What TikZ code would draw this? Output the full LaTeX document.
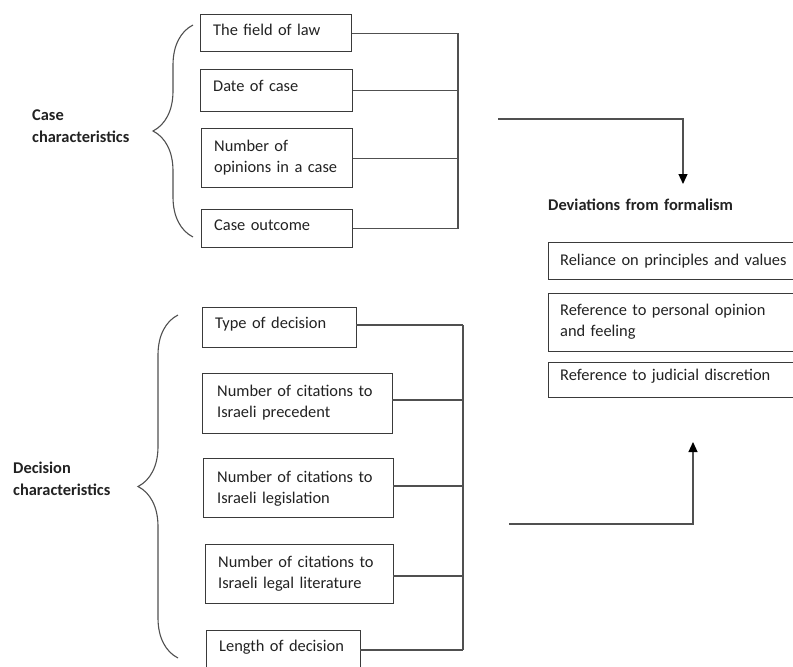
\documentclass[tikz,border=0pt]{standalone}
\usepackage{fontspec}
\setmainfont{Carlito}
\usetikzlibrary{arrows.meta,decorations.pathreplacing}
\definecolor{txtc}{HTML}{222222}
\definecolor{linec}{HTML}{505050}
\definecolor{boxc}{HTML}{3A3A3A}
\begin{document}
\begin{tikzpicture}[x=1pt,y=-1pt,
  box/.style={draw=boxc,line width=1.2pt,inner sep=0,anchor=north west},
  txt/.style={anchor=base west,inner sep=0,text width=300pt,align=left,text=txtc,
    font=\fontsize{16.4}{21}\selectfont},
  head/.style={txt,font=\fontsize{16.4}{22}\selectfont\bfseries},
  conn/.style={draw=linec,line width=1.2pt},
  bracestyle/.style={draw=linec,line width=1.1pt,decorate,decoration={brace,amplitude=40pt}},
  arr/.style={conn,-{Triangle[width=9pt,length=10pt,color=black]}}]
\useasboundingbox (0,0) rectangle (793,667);
\clip (0,0) rectangle (793,667);
\fill[white] (0,0) rectangle (793,667);

% ---------- case characteristics ----------
\node[box,minimum width=151pt,minimum height=37pt] (b1) at (200,14) {};
\node[box,minimum width=152pt,minimum height=42pt] (b2) at (200,69) {};
\node[box,minimum width=151pt,minimum height=59pt] (b3) at (201,128) {};
\node[box,minimum width=151pt,minimum height=38pt] (b4) at (201,209) {};
\node[txt] (t1) at (213,35) {The field of law};
\node[txt] (t2) at (213,91) {Date of case};
\node[txt] (t3) at (214,151) {Number of\\opinions in a case};
\node[txt] (t4) at (214,230) {Case outcome};

\coordinate (busA) at (458,32);
\draw[conn] (b1.east) -- (b1.east -| busA);
\draw[conn] (b2.east) -- (b2.east -| busA);
\draw[conn] (b3.east) -- (b3.east -| busA);
\draw[conn] (b4.east) -- (b4.east -| busA);
\draw[conn] (b1.east -| busA) -- (b4.east -| busA);

\draw[bracestyle] (193,237) -- (193,25);
\node[head] (caseh) at (32,120) {Case\\characteristics};

% ---------- right side ----------
\coordinate (a1s) at (498,119);
\coordinate (a1c) at (683,119);
\coordinate (a1e) at (683,184);
\draw[arr] (a1s) -- (a1c) -- (a1e);

\node[head] (devh) at (548,210) {Deviations from formalism};
\node[box,minimum width=260pt,minimum height=37pt] (r1) at (548,242) {};
\node[box,minimum width=260pt,minimum height=58pt] (r2) at (548,293) {};
\node[box,minimum width=260pt,minimum height=35pt] (r3) at (548,362) {};
\node[txt] (rt1) at (560,265) {Reliance on principles and values};
\node[txt] (rt2) at (560,315) {Reference to personal opinion\\and feeling};
\node[txt] (rt3) at (560,380) {Reference to judicial discretion};

\coordinate (a2s) at (509,524);
\coordinate (a2c) at (693,524);
\coordinate (a2e) at (693,442);
\draw[arr] (a2s) -- (a2c) -- (a2e);

% ---------- decision characteristics ----------
\node[box,minimum width=154pt,minimum height=40pt] (d1) at (202,307) {};
\node[box,minimum width=190pt,minimum height=60pt] (d2) at (202,373) {};
\node[box,minimum width=190pt,minimum height=59pt] (d3) at (203,458) {};
\node[box,minimum width=188pt,minimum height=59pt] (d4) at (205,544) {};
\node[box,minimum width=154pt,minimum height=60pt] (d5) at (206,630) {};
\node[txt] (dt1) at (215,328) {Type of decision};
\node[txt] (dt2) at (217,396) {Number of citations to\\Israeli precedent};
\node[txt] (dt3) at (217,482) {Number of citations to\\Israeli legislation};
\node[txt] (dt4) at (218,567) {Number of citations to\\Israeli legal literature};
\node[txt] (dt5) at (219,651) {Length of decision};

\coordinate (busB) at (463,325);
\coordinate (d1c) at (356,325);
\coordinate (d2c) at (392,400);
\coordinate (d3c) at (393,486);
\coordinate (d4c) at (393,576);
\coordinate (d5c) at (360,650);
\draw[conn] (d1c) -- (d1c -| busB);
\draw[conn] (d2c) -- (d2c -| busB);
\draw[conn] (d3c) -- (d3c -| busB);
\draw[conn] (d4c) -- (d4c -| busB);
\draw[conn] (d5c) -- (d5c -| busB);
\draw[conn] (d1c -| busB) -- (d5c -| busB);

\draw[bracestyle] (178,658) -- (178,315);
\node[head] (dech) at (13,473) {Decision\\characteristics};
\end{tikzpicture}
\end{document}
